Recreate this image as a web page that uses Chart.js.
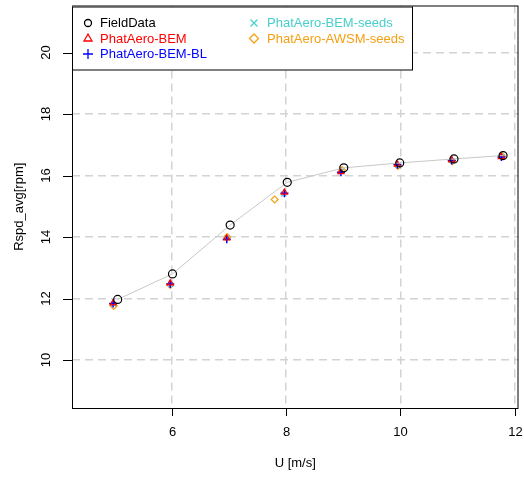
<!DOCTYPE html>
<html lang="en">
<head>
  <meta charset="UTF-8">
  <title>Rspd_avg vs U</title>
  <script src="https://cdn.jsdelivr.net/npm/chart.js"></script>
  <style>
    body { margin: 0; background: #fff; }
  </style>
</head>
<body>
  <canvas id="rspdChart" width="524" height="478"></canvas>

  <script>
    // values
    const fieldU = [5.05, 6.01, 7.02, 8.02, 9.01, 9.99, 10.94, 11.80];
    const fieldR = [11.97, 12.80, 14.39, 15.78, 16.25, 16.41, 16.54, 16.65];

    const bemU = [4.97, 5.97, 6.96, 7.97, 8.96, 9.95, 10.90, 11.77];
    const bemR = [11.85, 12.50, 13.96, 15.45, 16.12, 16.36, 16.50, 16.61];
    const bemBlR = [11.84, 12.47, 13.93, 15.42, 16.11, 16.35, 16.49, 16.60];

    const seedsU = [4.98, 5.98, 6.97, 7.96, 8.97, 9.96, 10.91, 11.78];
    const seedsR = [11.82, 12.46, 13.97, 15.40, 16.14, 16.33, 16.48, 16.62];

    const awsmU = [4.98, 5.97, 6.97, 7.80, 8.98, 9.96, 10.91, 11.78];
    const awsmR = [11.76, 12.44, 14.00, 15.22, 16.18, 16.31, 16.47, 16.63];

    const xTicks = [6, 8, 10, 12];
    const yTicks = [10, 12, 14, 16, 18, 20];

    const FONT = '13px "Liberation Sans", Arial, sans-serif';
    const CYAN = 'rgb(72, 206, 204)';
    const ORANGE = 'rgb(245, 160, 20)';

    const pts = (xs, ys) => xs.map((x, i) => ({ x: x, y: ys[i] }));

    // legend entries (label, colour, symbol)
    const legendItems = [
      { label: 'FieldData', color: '#000', sym: 'circle' },
      { label: 'PhatAero-BEM', color: '#ff0000', sym: 'triangle' },
      { label: 'PhatAero-BEM-BL', color: '#0000ff', sym: 'plus' },
      { label: 'PhatAero-BEM-seeds', color: CYAN, sym: 'x' },
      { label: 'PhatAero-AWSM-seeds', color: ORANGE, sym: 'diamond' }
    ];

    function drawSymbol(ctx, sym, x, y, color) {
      ctx.save();
      ctx.strokeStyle = color;
      ctx.lineWidth = 1.3;
      ctx.beginPath();
      if (sym === 'circle') {
        ctx.arc(x, y, 3.5, 0, Math.PI * 2);
      } else if (sym === 'triangle') {
        ctx.moveTo(x, y - 4.5); ctx.lineTo(x + 4, y + 2.5); ctx.lineTo(x - 4, y + 2.5); ctx.closePath();
      } else if (sym === 'plus') {
        ctx.moveTo(x - 5, y); ctx.lineTo(x + 5, y); ctx.moveTo(x, y - 5); ctx.lineTo(x, y + 5);
      } else if (sym === 'x') {
        ctx.moveTo(x - 3.5, y - 3.5); ctx.lineTo(x + 3.5, y + 3.5); ctx.moveTo(x + 3.5, y - 3.5); ctx.lineTo(x - 3.5, y + 3.5);
      } else if (sym === 'diamond') {
        ctx.moveTo(x, y - 4.5); ctx.lineTo(x + 4.5, y); ctx.lineTo(x, y + 4.5); ctx.lineTo(x - 4.5, y); ctx.closePath();
      }
      ctx.stroke();
      ctx.restore();
    }

    // R-style frame: box, outside ticks, rotated y labels, titles, inset legend
    const frame = {
      id: 'frame',
      afterDraw(chart) {
        const ctx = chart.ctx;
        const a = chart.chartArea;
        const sx = chart.scales.x, sy = chart.scales.y;
        ctx.save();
        ctx.strokeStyle = '#000';
        ctx.lineWidth = 1;
        ctx.strokeRect(a.left + 0.5, a.top + 0.5, a.right - a.left - 1, a.bottom - a.top);

        ctx.fillStyle = '#000';
        ctx.font = FONT;
        ctx.textAlign = 'center';
        ctx.textBaseline = 'middle';
        ctx.beginPath();
        xTicks.forEach(v => {
          const px = Math.round(sx.getPixelForValue(v)) + 0.5;
          ctx.moveTo(px, a.bottom); ctx.lineTo(px, a.bottom + 8);
          ctx.fillText(String(v), px, a.bottom + 24);
        });
        yTicks.forEach(v => {
          const py = Math.round(sy.getPixelForValue(v)) + 0.5;
          ctx.moveTo(a.left - 9, py); ctx.lineTo(a.left, py);
        });
        ctx.stroke();
        yTicks.forEach(v => {
          const py = sy.getPixelForValue(v);
          ctx.save();
          ctx.translate(46, py);
          ctx.rotate(-Math.PI / 2);
          ctx.fillText(String(v), 0, 0);
          ctx.restore();
        });

        ctx.fillText('U [m/s]', (a.left + a.right) / 2, 463);
        ctx.save();
        ctx.translate(19, (a.top + a.bottom) / 2);
        ctx.rotate(-Math.PI / 2);
        ctx.fillText('Rspd_avg[rpm]', 0, 0);
        ctx.restore();

        // legend box
        const lx = a.left, ly = a.top + 1, lw = 340, lh = 63;
        ctx.fillStyle = '#fff';
        ctx.fillRect(lx, ly, lw, lh);
        ctx.strokeRect(lx + 0.5, ly + 0.5, lw, lh);
        ctx.textAlign = 'left';
        const rows = [23, 38.5, 54];
        legendItems.forEach((it, i) => {
          const col = i < 3 ? 0 : 1;
          const row = i < 3 ? i : i - 3;
          const symX = col === 0 ? 88 : 254;
          const txtX = col === 0 ? 100 : 267;
          drawSymbol(ctx, it.sym, symX, rows[row], it.color);
          ctx.fillStyle = it.color;
          ctx.fillText(it.label, txtX, rows[row] + 0.5);
        });
        ctx.restore();
      }
    };

    const ctx = document.getElementById('rspdChart').getContext('2d');
    new Chart(ctx, {
      type: 'scatter',
      data: {
        datasets: [
          {
            label: 'FieldData',
            data: pts(fieldU, fieldR),
            showLine: true,
            borderColor: '#c8c8c8',
            borderWidth: 1,
            pointStyle: 'circle',
            pointRadius: 4,
            pointBorderColor: '#000',
            pointBackgroundColor: 'rgba(0,0,0,0)',
            pointBorderWidth: 1.2
          },
          {
            label: 'PhatAero-BEM',
            data: pts(bemU, bemR),
            pointStyle: 'triangle',
            pointRadius: 3.5,
            pointBorderColor: '#ff0000',
            pointBackgroundColor: 'rgba(0,0,0,0)',
            pointBorderWidth: 1.2
          },
          {
            label: 'PhatAero-BEM-BL',
            data: pts(bemU, bemBlR),
            pointStyle: 'cross',
            pointRadius: 4,
            pointBorderColor: '#0000ff',
            pointBorderWidth: 1.5
          },
          {
            label: 'PhatAero-BEM-seeds',
            data: pts(seedsU, seedsR),
            pointStyle: 'crossRot',
            pointRadius: 3.5,
            pointBorderColor: CYAN,
            pointBorderWidth: 1.2
          },
          {
            label: 'PhatAero-AWSM-seeds',
            data: pts(awsmU, awsmR),
            pointStyle: 'rectRot',
            pointRadius: 3.5,
            pointBorderColor: ORANGE,
            pointBackgroundColor: 'rgba(0,0,0,0)',
            pointBorderWidth: 1.2
          }
        ]
      },
      options: {
        responsive: false,
        animation: false,
        layout: { padding: { top: 5, right: 5, left: 0, bottom: 0 } },
        plugins: {
          legend: { display: false },
          tooltip: { enabled: false }
        },
        scales: {
          x: {
            type: 'linear',
            min: 4.25,
            max: 12.07,
            afterBuildTicks: s => { s.ticks = xTicks.map(v => ({ value: v })); },
            afterFit: s => { s.height = 70; },
            ticks: { display: false },
            grid: { color: '#d3d3d3', lineWidth: 1.5, drawTicks: false },
            border: { display: false, dash: [8, 5] }
          },
          y: {
            type: 'linear',
            min: 8.44,
            max: 21.53,
            afterBuildTicks: s => { s.ticks = yTicks.map(v => ({ value: v })); },
            afterFit: s => { s.width = 72; },
            ticks: { display: false },
            grid: { color: '#d3d3d3', lineWidth: 1.5, drawTicks: false },
            border: { display: false, dash: [8, 5] }
          }
        }
      },
      plugins: [frame]
    });
  </script>
</body>
</html>
